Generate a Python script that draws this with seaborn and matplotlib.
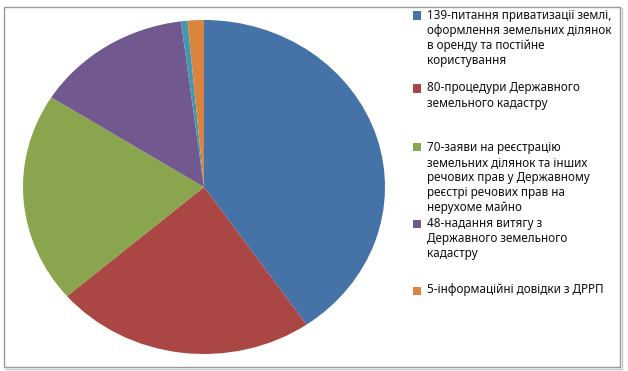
import matplotlib
matplotlib.use("Agg")
import matplotlib.pyplot as plt
import seaborn as sns
from matplotlib.patches import Rectangle
from matplotlib.lines import Line2D

sns.set_theme(style="white")
plt.rcParams['font.family'] = ['Noto Sans', 'DejaVu Sans']

# data
values = [139, 80, 70, 48, 2, 5]
colors = ["#4572A7", "#AA4643", "#89A54E", "#71588F", "#4198AF", "#DB843D"]
legend_labels = [
    "139-питання приватизації землі,\nоформлення земельних ділянок\nв оренду та постійне\nкористування",
    "80-процедури Державного\nземельного кадастру",
    "70-заяви на реєстрацію\nземельних ділянок та інших\nречових прав у Державному\nреєстрі речових прав на\nнерухоме майно",
    "48-надання витягу з\nДержавного земельного\nкадастру",
    None,
    "5-інформаційні довідки з ДРРП",
]

W, H = 628, 371
fig = plt.figure(figsize=(W / 100, H / 100), dpi=100)
fig.patch.set_facecolor("white")

# pie axis (ellipse x 23..385, y 20..354 from top)
px0, px1, py0, py1 = 23, 385, 20, 354
ax = fig.add_axes([px0 / W, (H - py1) / H, (px1 - px0) / W, (py1 - py0) / H])
ax.pie(values, colors=colors, startangle=90, counterclock=False,
       wedgeprops=dict(linewidth=0, antialiased=True))
ax.set_aspect('auto')
ax.set_xlim(-1, 1)
ax.set_ylim(-1, 1)
ax.axis('off')

# figure border
fig.add_artist(Rectangle((4 / W, (H - 367) / H), (620 - 4) / W, (367 - 7) / H,
                         transform=fig.transFigure, fill=False,
                         edgecolor="#9a9a9a", linewidth=1.0))
fig.add_artist(Line2D([621.5 / W, 621.5 / W], [(H - 368) / H, (H - 8) / H],
                      transform=fig.transFigure, color="#c8c8c8", linewidth=1.0))
fig.add_artist(Line2D([5 / W, 621.5 / W], [(H - 368.5) / H, (H - 368.5) / H],
                      transform=fig.transFigure, color="#c8c8c8", linewidth=1.0))

# fit font size to the reference text width
renderer = fig.canvas.get_renderer()
probe = fig.text(0, 0, "оформлення земельних ділянок", fontsize=10)
w10 = probe.get_window_extent(renderer).width
probe.remove()
fs = 10 * 184 / w10

# legend
first_line_y = [15, 88, 147, 223, None, 290]
line_step = 15.2
tx = 427
for lab, col, y0 in zip(legend_labels, colors, first_line_y):
    if lab is None:
        continue
    fig.add_artist(Rectangle((413 / W, (H - (y0 + 4.5)) / H), 8 / W, 8 / H,
                             transform=fig.transFigure, facecolor=col,
                             edgecolor='none'))
    for i, line in enumerate(lab.split("\n")):
        y = y0 + i * line_step
        fig.text(tx / W, (H - y) / H, line, fontsize=fs, color="#111111",
                 ha='left', va='center')

fig.savefig("out.png", dpi=100, facecolor="white")
